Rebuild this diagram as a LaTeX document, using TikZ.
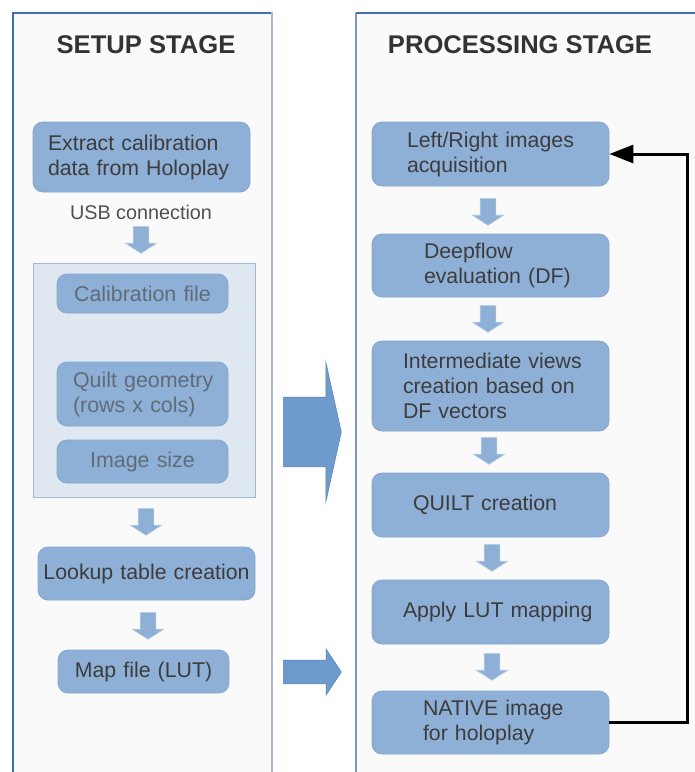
\documentclass[tikz,border=0pt]{standalone}
\usepackage{fontspec}
\setmainfont{Liberation Sans}
\usetikzlibrary{shapes.arrows,arrows.meta}

\definecolor{panelbg}{HTML}{FAFAFA}
\definecolor{panelblue}{HTML}{3D6CB8}
\definecolor{panelside}{HTML}{A8B8D0}
\definecolor{panelleft}{HTML}{8297BE}
\definecolor{boxfill}{HTML}{8FB0D6}
\definecolor{boxline}{HTML}{84A6D0}
\definecolor{boxtext}{HTML}{3C3C3C}
\definecolor{groupfill}{HTML}{DFE7F1}
\definecolor{groupline}{HTML}{A4B9D6}
\definecolor{fadetext}{HTML}{5F6B78}
\definecolor{bigfill}{HTML}{6E9BCC}
\definecolor{bigline}{HTML}{5A89C0}
\definecolor{titletext}{HTML}{333333}
\definecolor{labeltext}{HTML}{505050}

% indented line inside a left-aligned box
\newcommand{\indline}[2]{\hspace*{#1pt}#2}

\begin{document}
\begin{tikzpicture}[x=1pt,y=-1pt,
  stepbox/.style={rounded corners=10pt, fill=boxfill, draw=boxline, line width=0.8pt,
    text=boxtext, font=\fontsize{21.3}{25}\selectfont, inner xsep=0pt, inner ysep=0pt},
  leftbox/.style={stepbox, align=left},
  midbox/.style={stepbox, align=center},
  fadedbox/.style={stepbox, text=fadetext, font=\fontsize{21.4}{25}\selectfont},
  title/.style={font=\bfseries\fontsize{25.6}{30}\selectfont, text=titletext, anchor=base},
  flowarrow/.style={single arrow, rotate=-90, anchor=tail, fill=boxfill, draw=boxline!55!white,
    line width=0.6pt, minimum height=27pt, minimum width=31pt, inner xsep=0pt, inner ysep=7.5pt,
    single arrow head extend=8pt, single arrow tip angle=115},
  bigarrow/.style={single arrow, anchor=tail, fill=bigfill, draw=bigline, line width=0.6pt,
    inner xsep=0pt, minimum height=58pt},
  feedback/.style={line width=3pt, black, line join=miter, -{Triangle[length=24pt,width=18pt]}}
]
\useasboundingbox[fill=white] (0,0) rectangle (695,772);

% stage panels
\fill[panelbg] (13,13) rectangle (272,780);
\draw[panelblue, line width=2pt] (13,780) -- (13,13) -- (272,13);
\draw[panelside, line width=2.5pt] (272,12) -- (272,780);
\fill[panelbg] (356,13) rectangle (700,780);
\draw[panelleft, line width=1.5pt] (356,780) -- (356,13);
\draw[panelblue, line width=2pt] (355.5,13) -- (700,13);

% titles
\node[title] (tsetup) at (146,53) {SETUP STAGE};
\node[title] (tproc) at (520,53) {PROCESSING STAGE};

% setup stage
\node[leftbox, minimum height=70pt, text width=217pt] (ext) at (141.5,157)
  {\indline{15}{Extract calibration}\\\indline{15}{data from Holoplay}};
\node[anchor=base, font=\fontsize{19.8}{23}\selectfont, text=labeltext] (usb) at (141,219) {USB connection};
\node[flowarrow] (a0) at (141,226) {};

\draw[groupline, fill=groupfill, line width=1pt] (33,263) rectangle (255,497);
\node[fadedbox, align=center, minimum height=39pt, text width=171pt] (calib) at (142.5,293.5) {Calibration file};
\node[fadedbox, align=left, minimum height=64pt, text width=171pt] (quilt) at (142.5,394)
  {\indline{16}{Quilt geometry}\\\indline{16}{(rows x cols)}};
\node[fadedbox, align=center, minimum height=43pt, text width=171pt] (imgsize) at (142.5,461.5) {Image size};

\node[flowarrow] (a1) at (146,508) {};
\node[midbox, minimum height=53pt, text width=217pt] (lookup) at (146.5,573.5) {Lookup table creation};
\node[flowarrow] (a2) at (148,612) {};
\node[midbox, minimum height=43pt, text width=171pt] (map) at (143.5,671.5) {Map file (LUT)};

% transitions between stages
\node[bigarrow, inner ysep=34.5pt, minimum width=139pt, single arrow head extend=35pt, single arrow tip angle=155] (big1) at (283,432) {};
\node[bigarrow, inner ysep=11.5pt, minimum width=45pt, single arrow head extend=11pt, single arrow tip angle=113] (big2) at (283,672) {};

% processing stage
\node[leftbox, minimum height=64pt, text width=237pt] (b1) at (490.5,154)
  {\indline{35}{Left/Right images}\\\indline{35}{acquisition}};
\node[flowarrow] (p1) at (488,198) {};
\node[leftbox, minimum height=63pt, text width=237pt] (b2) at (490.5,265.5)
  {\indline{52}{Deepflow}\\\indline{52}{evaluation (DF)}};
\node[flowarrow] (p2) at (488,305) {};
\node[leftbox, minimum height=90pt, text width=237pt] (b3) at (490.5,386)
  {\indline{31}{Intermediate views}\\\indline{31}{creation based on}\\\indline{31}{DF vectors}};
\node[flowarrow] (p3) at (489,437) {};
\node[leftbox, minimum height=64pt, text width=237pt] (b4) at (490.5,505)
  {\indline{41}{QUILT creation}};
\node[flowarrow] (p4) at (492,544) {};
\node[leftbox, minimum height=64pt, text width=237pt] (b5) at (490.5,612)
  {\indline{31}{Apply LUT mapping}};
\node[flowarrow] (p5) at (492,653) {};
\node[leftbox, minimum height=63pt, text width=237pt] (b6) at (490.5,722.5)
  {\indline{51}{NATIVE image}\\\indline{51}{for holoplay}};

% loop back to acquisition
\coordinate (turn) at (687,400);
\draw[feedback] (b6.east) -- (b6.east -| turn) -- (b1.east -| turn) -- (b1.east);
\end{tikzpicture}
\end{document}
